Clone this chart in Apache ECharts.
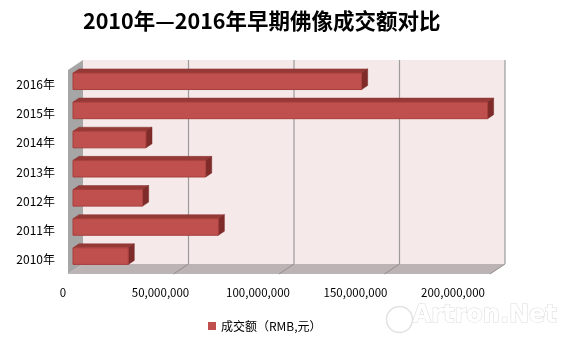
<!DOCTYPE html>
<html>
<head>
<meta charset="utf-8">
<script src="https://cdn.jsdelivr.net/npm/echarts@6/dist/echarts.min.js"></script>
<style>html,body{margin:0;padding:0;background:#fff;}#c{width:564px;height:341px;}</style>
</head>
<body>
<div id="c"></div>
<script>
const titleText = '2010年—2016年早期佛像成交额对比';
const categories = ['2010年', '2011年', '2012年', '2013年', '2014年', '2015年', '2016年'];
const values = [26200000, 68900000, 33000000, 62900000, 34600000, 196500000, 136800000];
const xTicks = [0, 50000000, 100000000, 150000000, 200000000];
const seriesName = '成交额（RMB,元）';

const FONT = '"Noto Sans CJK SC", "Liberation Sans", sans-serif';
const DEPTH_X = 15, DEPTH_Y = 10;      // wall depth offset (px)
const BAR_D0 = 5, BAR_D1 = 11;         // bar front/back depth
const BAR_RATIO = 0.57;

function fmt(v) { return String(v).replace(/\B(?=(\d{3})+(?!\d))/g, ','); }

const chart = echarts.init(document.getElementById('c'), null, {renderer: 'canvas'});
chart.setOption({
  animation: false,
  backgroundColor: '#ffffff',
  title: {
    text: titleText, left: 83, top: 10, padding: 0,
    textStyle: {fontFamily: FONT, fontSize: 21.5, fontWeight: 'bold', color: '#000'}
  },
  legend: {
    data: [seriesName], left: 203, top: 315,
    icon: 'rect', itemWidth: 8, itemHeight: 8, itemGap: 4,
    textStyle: {fontFamily: FONT, fontSize: 12, color: '#000'}
  },
  grid: [
    {left: 68, top: 70, width: 422, height: 204},
    {left: 63, top: 70, width: 390, height: 204}
  ],
  xAxis: [
    {type: 'value', gridIndex: 0, min: 0, max: 200000000, interval: 50000000,
     axisLabel: {show: false}, axisLine: {show: false}, axisTick: {show: false}, splitLine: {show: false}},
    {type: 'value', gridIndex: 1, min: 0, max: 200000000, interval: 50000000,
     axisLabel: {show: true, margin: 13, fontFamily: FONT, fontSize: 11.5, color: '#000', formatter: fmt},
     axisLine: {show: false}, axisTick: {show: false}, splitLine: {show: false}}
  ],
  yAxis: [
    {type: 'category', gridIndex: 0, data: categories,
     axisLabel: {margin: 13, fontFamily: FONT, fontSize: 12, color: '#000'},
     axisLine: {show: false}, axisTick: {show: false}},
    {type: 'category', gridIndex: 1, data: categories, show: false}
  ],
  graphic: [
    {type: 'circle', left: 384, top: 304, shape: {r: 13}, style: {fill: 'none', stroke: '#e2e2e2', lineWidth: 1.5}, z: 1},
    {type: 'text', left: 412, top: 303, style: {text: 'Artron.Net', fontFamily: '"DejaVu Sans", sans-serif', fontSize: 24, fontWeight: 'bold', fill: '#ffffff', stroke: '#dcdcdc', lineWidth: 1.2}, z: 1}
  ],
  series: [
    {
      type: 'custom', name: 'walls', xAxisIndex: 0, yAxisIndex: 0, z: 1, silent: true,
      data: [[0, 0]],
      renderItem: function (params, api) {
        const cs = params.coordSys;
        const l = cs.x, t = cs.y, r = cs.x + cs.width, b = cs.y + cs.height;
        const ch = [
          {type: 'rect', shape: {x: l + DEPTH_X, y: t - DEPTH_Y, width: cs.width, height: cs.height}, style: {fill: '#f5e9e9'}},
          {type: 'polygon', shape: {points: [[l, t], [l + DEPTH_X, t - DEPTH_Y], [l + DEPTH_X, b - DEPTH_Y], [l, b]]}, style: {fill: '#a6a6a6'}},
          {type: 'polygon', shape: {points: [[l, b], [l + DEPTH_X, b - DEPTH_Y], [r + DEPTH_X, b - DEPTH_Y], [r, b]]}, style: {fill: '#bcb4b4'}}
        ];
        xTicks.forEach(function (v) {
          if (v === 0) return;
          const x = api.coord([v, 0])[0];
          ch.push({type: 'line', shape: {x1: x + DEPTH_X, y1: t - DEPTH_Y, x2: x + DEPTH_X, y2: b - DEPTH_Y}, style: {stroke: '#9c9c9c', lineWidth: 1.2}});
          ch.push({type: 'line', shape: {x1: x, y1: b, x2: x + DEPTH_X, y2: b - DEPTH_Y}, style: {stroke: '#8f8f8f', lineWidth: 1}});
        });
        return {type: 'group', children: ch};
      }
    },
    {
      type: 'custom', name: seriesName, xAxisIndex: 0, yAxisIndex: 0, z: 3,
      itemStyle: {color: '#c0504d'},
      data: values.map(function (v, i) { return [v, i]; }),
      encode: {x: 0, y: 1},
      renderItem: function (params, api) {
        const p0 = api.coord([0, api.value(1)]);
        const p1 = api.coord([api.value(0), api.value(1)]);
        const band = api.size([0, 1])[1];
        const h = band * BAR_RATIO;
        const fy0 = BAR_D0 * DEPTH_Y / DEPTH_X, fy1 = BAR_D1 * DEPTH_Y / DEPTH_X;
        const x0 = p0[0] + BAR_D0, x1 = p1[0] + BAR_D0;
        const yT = p0[1] - h / 2 - fy0, yB = p0[1] + h / 2 - fy0;
        const dx = BAR_D1 - BAR_D0, dy = fy1 - fy0;
        return {type: 'group', children: [
          {type: 'polygon', shape: {points: [[x0, yT], [x0 + dx, yT - dy], [x1 + dx, yT - dy], [x1, yT]]}, style: {fill: '#963a38', stroke: '#8a3230', lineWidth: 0.5}},
          {type: 'polygon', shape: {points: [[x1, yT], [x1 + dx, yT - dy], [x1 + dx, yB - dy], [x1, yB]]}, style: {fill: '#7e2b29', stroke: '#742725', lineWidth: 0.5}},
          {type: 'rect', shape: {x: x0, y: yT, width: x1 - x0, height: yB - yT}, style: {fill: '#c0504d', stroke: '#a53f3c', lineWidth: 1}}
        ]};
      }
    }
  ]
});
</script>
</body>
</html>
